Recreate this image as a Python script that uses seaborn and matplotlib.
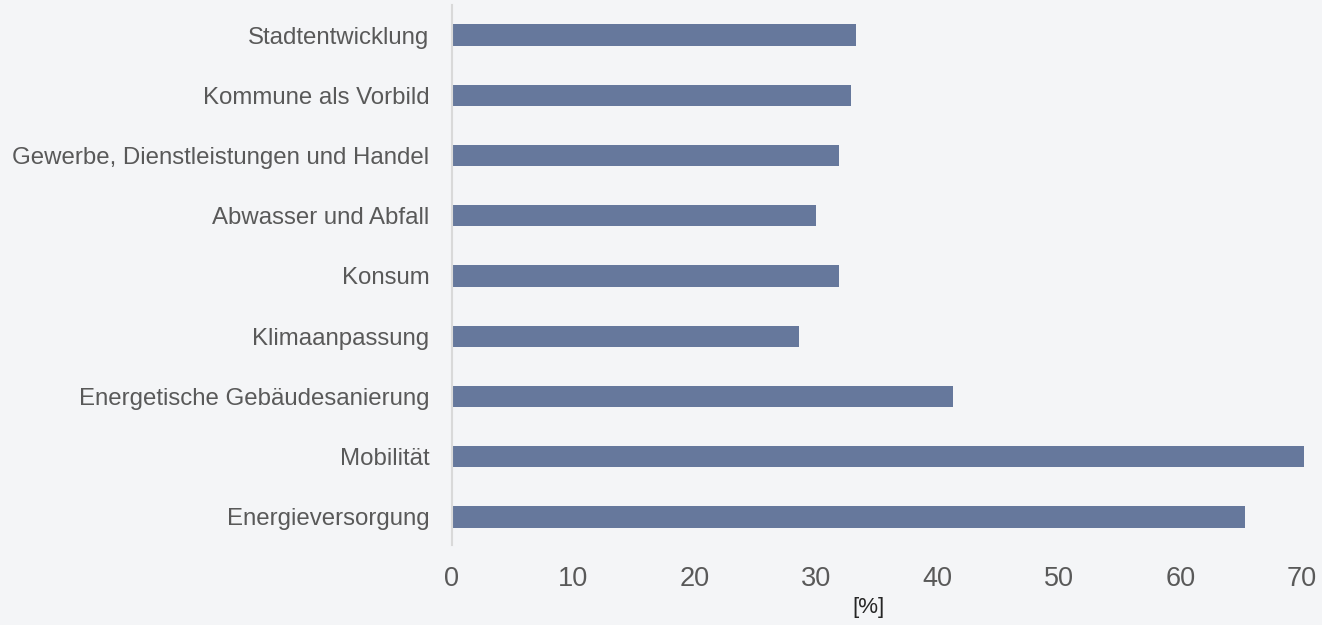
import matplotlib
matplotlib.use("Agg")
import matplotlib.pyplot as plt
import seaborn as sns
import pandas as pd

# Handlungsfelder (top to bottom) and their share in percent
categories = [
    "Stadtentwicklung",
    "Kommune als Vorbild",
    "Gewerbe, Dienstleistungen und Handel",
    "Abwasser und Abfall",
    "Konsum",
    "Klimaanpassung",
    "Energetische Gebäudesanierung",
    "Mobilität",
    "Energieversorgung",
]
values = [33.3, 32.9, 31.9, 30.0, 31.9, 28.6, 41.3, 70.2, 65.3]
x_ticks = [0, 10, 20, 30, 40, 50, 60, 70]

BG = "#f4f5f7"
BAR = "#66789c"
TEXT = "#595959"

sns.set_theme(style="white")
plt.rcParams["font.family"] = ["Liberation Sans", "DejaVu Sans"]

df = pd.DataFrame({"Handlungsfeld": categories, "Anteil": values})

W, H = 1322, 625
fig = plt.figure(figsize=(W / 100, H / 100), dpi=100, facecolor=BG)

# axes placed in pixel terms: x=0 at 451.5 px, 12.15 px per percent
x0_px = 451.5
px_per_unit = 12.15
xmax = 70.5
ax_w_px = xmax * px_per_unit
ax_top_px, ax_bot_px = 5, 545
ax = fig.add_axes([x0_px / W, 1 - ax_bot_px / H, ax_w_px / W, (ax_bot_px - ax_top_px) / H])
ax.set_facecolor(BG)

sns.barplot(data=df, x="Anteil", y="Handlungsfeld", order=categories,
            color=BAR, saturation=1, width=0.35, ax=ax, edgecolor="none")

ax.set_xlim(0, xmax)
ax.set_ylim(8.465, -0.498)
ax.set_xticks(x_ticks)
ax.set_xticklabels([str(t) for t in x_ticks])

for s in ["top", "right", "bottom"]:
    ax.spines[s].set_visible(False)
ax.spines["left"].set_color("#d9d9d9")
ax.spines["left"].set_linewidth(1.5)

ax.tick_params(axis="y", length=0, pad=16, labelsize=17.3, labelcolor=TEXT)
ax.tick_params(axis="x", length=0, pad=15, labelsize=19.5, labelcolor=TEXT)
ax.set_xlabel("")
ax.set_ylabel("")
ax.grid(False)

fig.text(869 / W, 1 - 607 / H, "[%]", ha="center", va="center",
         fontsize=16, color="#262626")

fig.savefig("out.png", dpi=100, facecolor=BG)
